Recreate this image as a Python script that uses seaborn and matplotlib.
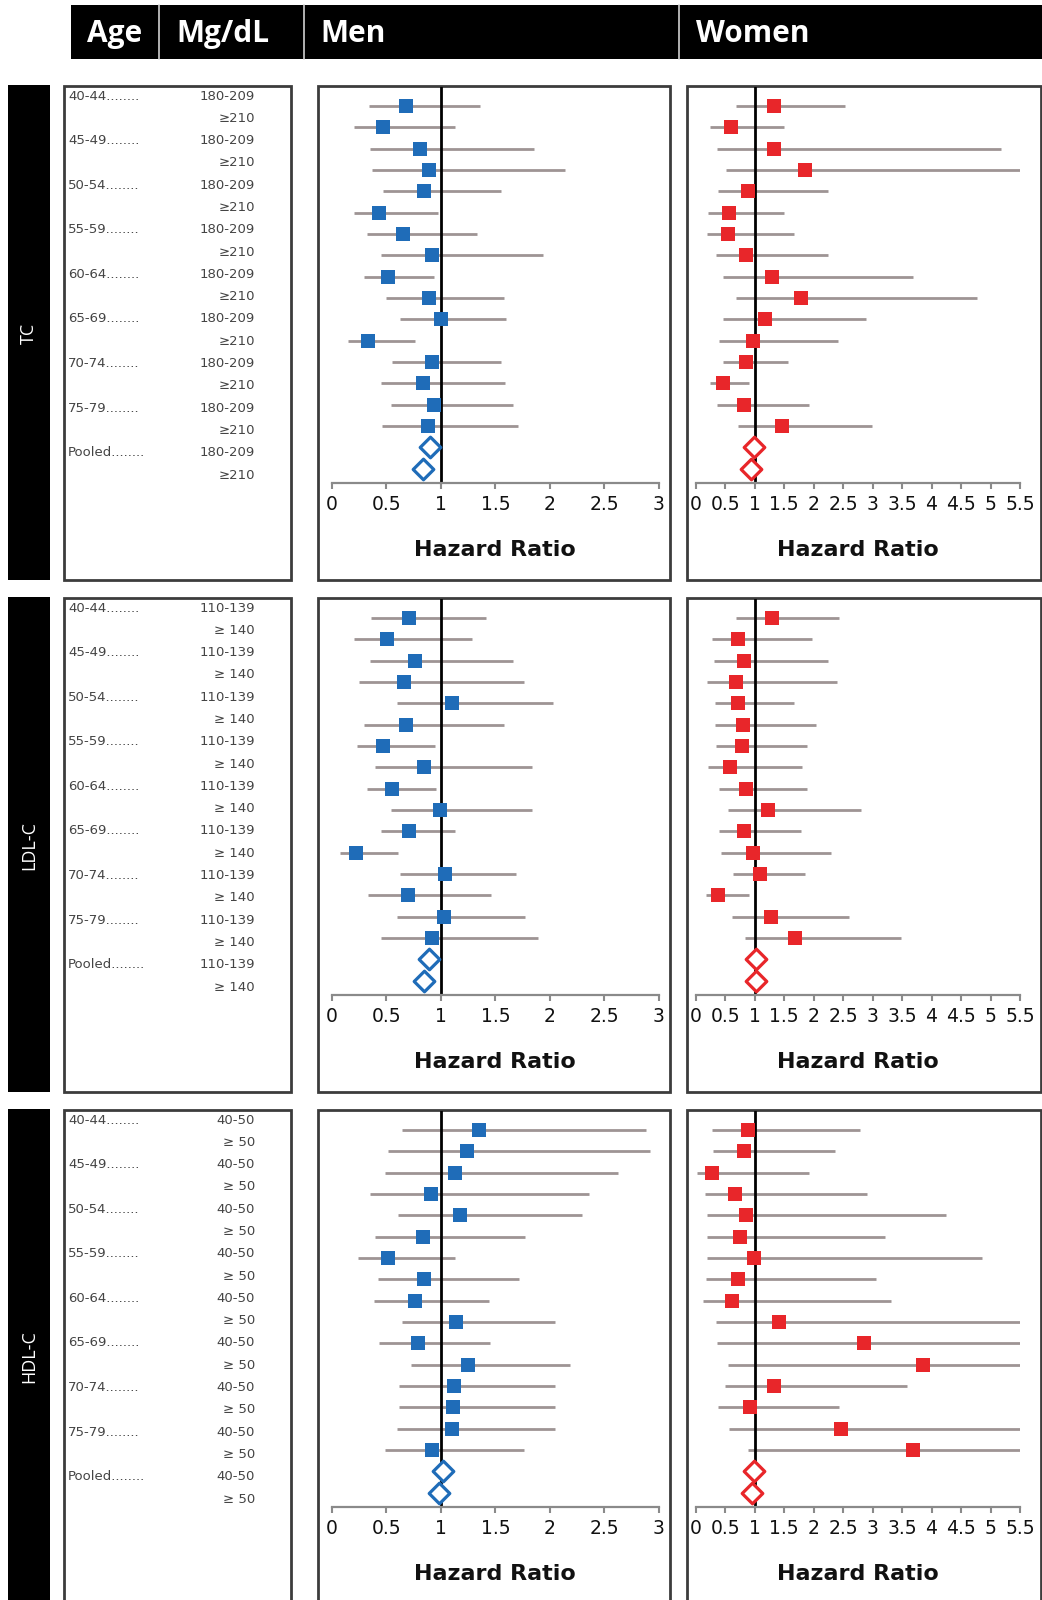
import numpy as np
import pandas as pd
import matplotlib
matplotlib.use("Agg")
import matplotlib.pyplot as plt
from matplotlib.patches import Rectangle
import seaborn as sns

# ---------------------------------------------------------------- data
ages = ["40-44", "45-49", "50-54", "55-59", "60-64", "65-69", "70-74", "75-79", "Pooled"]
section_names = ["TC", "LDL-C", "HDL-C"]
tc_levels = ["180-209", "≥210"]
ldl_levels = ["110-139", "≥ 140"]
hdl_levels = ["40-50", "≥ 50"]

men_ticks = [0, 0.5, 1, 1.5, 2, 2.5, 3]
women_ticks = [0, 0.5, 1, 1.5, 2, 2.5, 3, 3.5, 4, 4.5, 5, 5.5]
tick_labels_men = ["0", "0.5", "1", "1.5", "2", "2.5", "3"]
tick_labels_women = ["0", "0.5", "1", "1.5", "2", "2.5", "3", "3.5", "4", "4.5", "5", "5.5"]

# Total cholesterol
tc_men_hr = [0.68, 0.47, 0.81, 0.89, 0.85, 0.43, 0.65, 0.92, 0.52, 0.89, 1.00, 0.33, 0.92, 0.84, 0.94, 0.88]
tc_men_lo = [0.34, 0.20, 0.35, 0.37, 0.47, 0.20, 0.32, 0.45, 0.30, 0.50, 0.63, 0.15, 0.55, 0.45, 0.54, 0.46]
tc_men_hi = [1.36, 1.13, 1.85, 2.14, 1.55, 0.97, 1.33, 1.94, 0.94, 1.58, 1.60, 0.76, 1.55, 1.59, 1.66, 1.71]
tc_men_pooled = [0.90, 0.84]
tc_women_hr = [1.32, 0.60, 1.33, 1.86, 0.88, 0.56, 0.54, 0.85, 1.30, 1.78, 1.18, 0.98, 0.85, 0.46, 0.82, 1.46]
tc_women_lo = [0.68, 0.25, 0.36, 0.51, 0.37, 0.21, 0.19, 0.34, 0.46, 0.68, 0.47, 0.40, 0.47, 0.25, 0.36, 0.72]
tc_women_hi = [2.54, 1.49, 5.18, 5.50, 2.24, 1.49, 1.66, 2.25, 3.69, 4.77, 2.88, 2.41, 1.56, 0.90, 1.93, 2.99]
tc_women_pooled = [0.99, 0.94]

# LDL cholesterol
ldl_men_hr = [0.71, 0.51, 0.76, 0.66, 1.10, 0.68, 0.47, 0.85, 0.55, 0.99, 0.71, 0.22, 1.04, 0.70, 1.03, 0.92]
ldl_men_lo = [0.36, 0.20, 0.35, 0.25, 0.60, 0.30, 0.23, 0.40, 0.32, 0.54, 0.45, 0.08, 0.63, 0.33, 0.60, 0.45]
ldl_men_hi = [1.41, 1.29, 1.66, 1.76, 2.03, 1.58, 0.95, 1.84, 0.96, 1.84, 1.13, 0.61, 1.69, 1.46, 1.77, 1.89]
ldl_men_pooled = [0.89, 0.85]
ldl_women_hr = [1.29, 0.71, 0.82, 0.68, 0.71, 0.80, 0.78, 0.59, 0.85, 1.23, 0.82, 0.98, 1.09, 0.37, 1.27, 1.69]
ldl_women_lo = [0.68, 0.27, 0.31, 0.20, 0.32, 0.33, 0.34, 0.21, 0.40, 0.55, 0.40, 0.43, 0.64, 0.18, 0.62, 0.84]
ldl_women_hi = [2.43, 1.97, 2.25, 2.39, 1.66, 2.04, 1.88, 1.80, 1.88, 2.80, 1.78, 2.29, 1.86, 0.90, 2.60, 3.49]
ldl_women_pooled = [1.02, 1.02]

# HDL cholesterol
hdl_men_hr = [1.35, 1.24, 1.13, 0.91, 1.18, 0.84, 0.52, 0.85, 0.76, 1.14, 0.79, 1.25, 1.12, 1.11, 1.10, 0.92]
hdl_men_lo = [0.64, 0.52, 0.49, 0.35, 0.61, 0.40, 0.24, 0.42, 0.39, 0.64, 0.43, 0.73, 0.62, 0.62, 0.60, 0.49]
hdl_men_hi = [2.88, 2.92, 2.62, 2.36, 2.29, 1.77, 1.13, 1.72, 1.44, 2.05, 1.45, 2.18, 2.05, 2.05, 2.05, 1.76]
hdl_men_pooled = [1.02, 0.98]
hdl_women_hr = [0.89, 0.82, 0.27, 0.66, 0.86, 0.75, 0.99, 0.71, 0.61, 1.42, 2.85, 3.86, 1.33, 0.92, 2.47, 3.69]
hdl_women_lo = [0.28, 0.29, 0.03, 0.15, 0.19, 0.19, 0.20, 0.17, 0.12, 0.34, 0.36, 0.54, 0.50, 0.38, 0.56, 0.89]
hdl_women_hi = [2.79, 2.36, 1.92, 2.90, 4.25, 3.21, 4.85, 3.05, 3.31, 5.50, 5.50, 5.50, 3.58, 2.43, 5.50, 5.50]
hdl_women_pooled = [0.99, 0.95]

sections = [
    dict(name="TC", levels=tc_levels,
         men=(tc_men_hr, tc_men_lo, tc_men_hi, tc_men_pooled),
         women=(tc_women_hr, tc_women_lo, tc_women_hi, tc_women_pooled)),
    dict(name="LDL-C", levels=ldl_levels,
         men=(ldl_men_hr, ldl_men_lo, ldl_men_hi, ldl_men_pooled),
         women=(ldl_women_hr, ldl_women_lo, ldl_women_hi, ldl_women_pooled)),
    dict(name="HDL-C", levels=hdl_levels,
         men=(hdl_men_hr, hdl_men_lo, hdl_men_hi, hdl_men_pooled),
         women=(hdl_women_hr, hdl_women_lo, hdl_women_hi, hdl_women_pooled)),
]

# ---------------------------------------------------------------- style
sns.set_theme(style="white")
plt.rcParams["font.family"] = ["DejaVu Sans"]

W, H, DPI = 1042, 1600, 100
BLUE = "#1f6cb8"
RED = "#e8262a"
CI_GRAY = "#9e9494"
AXIS_GRAY = "#8a8a8a"
BOX_EDGE = "#3c3c3c"

fig = plt.figure(figsize=(W / DPI, H / DPI), dpi=DPI)
bg = fig.add_axes([0, 0, 1, 1])
bg.set_xlim(0, W)
bg.set_ylim(H, 0)
bg.axis("off")


def px_axes(x0, y0, x1, y1):
    """Add an axes given pixel edges (y measured from the top)."""
    return fig.add_axes([x0 / W, 1 - y1 / H, (x1 - x0) / W, (y1 - y0) / H])


# header band
bg.add_patch(Rectangle((71, 5), W - 71, 54, facecolor="black", edgecolor="none"))
for xd in (159, 304, 679):
    bg.plot([xd, xd], [5, 59], color="#d0d0d0", lw=1.2)
for txt, xt in (("Age", 87), ("Mg/dL", 176), ("Men", 320), ("Women", 696)):
    bg.text(xt, 34, txt, color="white", fontsize=21.5, fontweight="bold",
            family="Open Sans", ha="left", va="center")

SECTION_STEP = 512
ROW_STEP = 21.4
FIRST_ROW = 105
BASELINE = 483
BOX_TOP = 86
BOX_BOTTOM = 580
n_rows = 18


def draw_panel(ax, hr, lo, hi, pooled, color, xmax, ticks, labels):
    rows = np.arange(len(hr))
    df = pd.DataFrame({"hr": hr, "lo": lo, "hi": hi, "row": rows})
    pool_df = pd.DataFrame({"hr": pooled, "row": [len(hr), len(hr) + 1]})

    ax.hlines(df["row"], df["lo"], df["hi"], color=CI_GRAY, lw=2.0, zorder=1)
    ax.axvline(1, color="black", lw=2.0, zorder=2)
    sns.scatterplot(data=df, x="hr", y="row", marker="s", s=96, color=color,
                    linewidth=0, ax=ax, zorder=3, legend=False)
    sns.scatterplot(data=pool_df, x="hr", y="row", marker="D", s=110,
                    facecolor="white", edgecolor=color, linewidth=2.3,
                    ax=ax, zorder=3, legend=False)

    ax.set_xlim(0, xmax)
    top = (BOX_TOP - FIRST_ROW) / ROW_STEP
    bottom = (BASELINE - FIRST_ROW) / ROW_STEP
    ax.set_ylim(bottom, top)
    ax.set_facecolor("none")
    for side in ("top", "left", "right"):
        ax.spines[side].set_visible(False)
    ax.spines["bottom"].set_color(AXIS_GRAY)
    ax.spines["bottom"].set_linewidth(1.6)
    ax.set_yticks([])
    ax.set_xticks(ticks)
    ax.set_xticklabels(labels)
    ax.tick_params(axis="x", bottom=True, direction="out", length=4.5, width=1.5,
                   color=AXIS_GRAY, labelsize=13.5, labelcolor="#111111", pad=4.0)
    ax.set_xlabel("")
    ax.set_ylabel("")
    ax.grid(False)


for k, sec in enumerate(sections):
    off = SECTION_STEP * k

    # section bar
    bg.add_patch(Rectangle((8, BOX_TOP - 1 + off), 42, BOX_BOTTOM - BOX_TOP + 1,
                           facecolor="black", edgecolor="none"))
    bg.text(29, (BOX_TOP + BOX_BOTTOM) / 2 + off, sec["name"], color="white",
            rotation=90, ha="center", va="center", fontsize=13, family="Open Sans")

    # label box and row labels
    bg.add_patch(Rectangle((64, BOX_TOP + off), 227, BOX_BOTTOM - BOX_TOP,
                           facecolor="white", edgecolor=BOX_EDGE, lw=2))
    for i in range(n_rows):
        y = 96 + 22.3 * i + off
        if i % 2 == 0:
            bg.text(68, y, ages[i // 2] + "........", fontsize=9.5, color="#444444",
                    ha="left", va="center")
        bg.text(255, y, sec["levels"][i % 2], fontsize=9.5, color="#444444",
                ha="right", va="center")

    # panel frames
    bg.add_patch(Rectangle((318, BOX_TOP + off), 352, BOX_BOTTOM - BOX_TOP,
                           facecolor="white", edgecolor=BOX_EDGE, lw=2))
    bg.add_patch(Rectangle((687, BOX_TOP + off), 354, BOX_BOTTOM - BOX_TOP,
                           facecolor="white", edgecolor=BOX_EDGE, lw=2))

    ax_m = px_axes(331.7, BOX_TOP + 1 + off, 659, BASELINE + off)
    draw_panel(ax_m, *sec["men"], BLUE, 3, men_ticks, tick_labels_men)
    ax_w = px_axes(695.7, BOX_TOP + 1 + off, 1020, BASELINE + off)
    draw_panel(ax_w, *sec["women"], RED, 5.5, women_ticks, tick_labels_women)

    for xc in (495, 858):
        bg.text(xc, 550 + off, "Hazard Ratio", fontsize=16, fontweight="bold",
                color="#111111", ha="center", va="center")

fig.savefig("out.png", dpi=DPI, facecolor="white")
